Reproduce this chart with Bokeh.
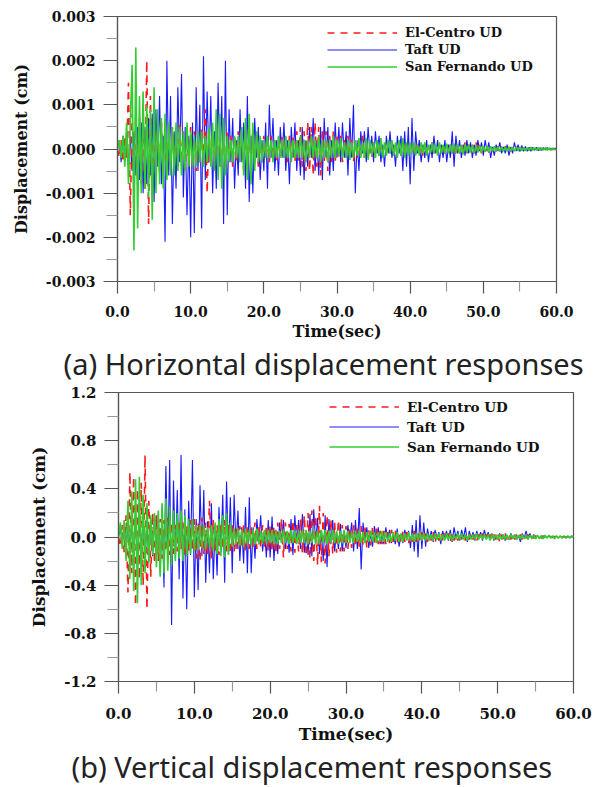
import numpy as np
from bokeh.plotting import figure
from bokeh.models import Range1d, FixedTicker, PrintfTickFormatter, Legend, LegendItem, Title
from bokeh.layouts import column
from bokeh.embed import file_html
from bokeh.resources import INLINE

# ---------------- data ----------------
DT = 0.25                      # sampling step of the digitised records (s)
N_SAMPLES = 241                # 0 .. 60 s
time_sec = np.arange(N_SAMPLES) * DT

# (a) Horizontal displacement, values in units of 1e-4 cm
h_elcentro = [
    0, -2, 2, -3, 3, -2, 15, -15, 8, -9, 9, -8, 7, -8, 6, -9, 20, -17, 12, -10,
    6, -6, 5, -5, 6, -4, 4, -5, 3, -4, 5, -3, 4, -4, 6, -3, 4, -5, 3, -4,
    5, -4, 4, -5, 3, -3, 5, -4, 9, -10, 4, -3, 3, -4, 4, -3, 4, -5, 3, -4,
    4, -3, 3, -4, 3, -3, 4, -3, 3, -5, 5, -4, 3, -3, 4, -3, 3, -4, 2, -3,
    3, -2, 2, -3, 3, -2, 2, -3, 2, -2, 3, -2, 2, -3, 3, -2, 3, -3, 4, -3,
    5, -4, 4, -5, 6, -5, 5, -6, 6, -4, 5, -6, 4, -3, 4, -5, 3, -3, 4, -3,
    3, -2, 3, -3, 2, -2, 3, -2, 2, -3, 2, -2, 2, -2, 3, -2, 2, -2, 1, -2,
    1.5, -1, 1, -1.5, 1, -1, 1.5, -1, 1, -1, 1.5, -1.5, 1, -1, 1, -1.5, 1, -1, 1.5, -1,
    1, -1, 1.5, -1, 1, -1, 1, -1.5, 1, -1, 1, -1, 1.5, -1, 1, -1, 1, -1, 1, -1,
    1, -1, 1, -1, 1, -1.5, 1, -1, 1, -1, 1.5, -1, 1, -1, 1, -1, 1.5, -1, 1, -1,
    0.8, -0.6, 0.7, -0.8, 0.6, -0.5, 0.7, -0.5, 0.6, -0.6, 0.5, -0.5, 0.6, -0.4, 0.5, -0.5, 0.4, -0.4, 0.5, -0.3,
    0.4, -0.3, 0.3, -0.4, 0.3, -0.3, 0.3, -0.2, 0.3, -0.2, 0.2, -0.2, 0.2, -0.2, 0.2, -0.1, 0.1, -0.1, 0.1, -0.1,
    0,
]
h_taft = [
    0, 2, -3, 3, -2, 4, -4, 3, -5, 4, -6, 5, -7, 6, -10, 5, -8, 7, -6, 8,
    -12, 9, -4, 12, -8, 3, -21, 20, -6, 12, -17, 4, -9, 14, -3, 17, -11, 5, -15, 3,
    -20, 6, -19, 14, -5, 10, -18, 21, -7, 13, -3, 12, -10, 4, -9, 15, -4, 12, -17, 20,
    -15, 9, -3, 7, -9, 2, -6, 9, -3, 6, -9, 12, -12, 3, -10, 7, -2, 5, -7, 2,
    -5, 6, -9, 10, -2, 7, -5, 2, -6, 5, -2, 6, -5, 2, -8, 5, -2, 6, -5, 2,
    -6, 5, -7, 2, -4, 5, -2, 7, -5, 2, -6, 5, -7, 7, -2, 5, -6, 2, -5, 6,
    -2, 5, -3, 6, -2, 4, -6, 7, -2, 10, -10, 2, -5, 4, -1, 4, -3, 5, -1, 3,
    -3, 4, -1, 3, -3, 1, -4, 3, -1, 4, -2, 1, -4, 3, -1, 3, -5, 4, -4, 5,
    -8, 7, -5, 4, -1, 2, -3, 1, -2, 2, -3, 1, -2, 3, -1, 2, -3, 1, -2, 2,
    -3, 1, -2, 4, -4, 3, -1, 2, -2, 1, -1.5, 2, -1, 1.5, -2, 1, -1.5, 2, -0.5, 1.5,
    -1.5, 2, -0.5, 1.5, -2, 0.5, -1.5, 1, -0.5, 1.5, -1, 0.5, -1, 1, -1.5, 0.5, -1, 1.5, -0.5, 1,
    -0.6, 0.8, -0.5, 0.6, -0.5, 0.4, -0.5, 0.4, -0.3, 0.4, -0.4, 0.3, -0.3, 0.3, -0.2, 0.3, -0.2, 0.2, -0.2, 0.2,
    0,
]
h_sanfernando = [
    0, 2, -2, 3, -4, 6, -8, 6, 19, -23, 23, -18, 12, -10, 13, -9, 10, -11, 9, -16,
    14, -10, 9, -8, 7, -9, 8, -7, 6, -6, 5, -6, 6, -5, 5, -6, 4, -5, 6, -4,
    4, -4, 3, -4, 4, -3, 4, -4, 3, -3, 5, -4, 6, -5, 9, -7, 8, -9, 7, -6,
    3, -3, 2, -3, 3, -2, 3, -3, 5, -6, 7, -7, 8, -8, 6, -5, 4, -3, 3, -3,
    2, -2, 3, -2, 2, -3, 2, -2, 3, -2, 2, -2, 3, -2, 2, -3, 2, -2, 2, -2,
    3, -2, 2, -3, 2, -2, 3, -2, 2, -2, 3, -3, 2, -2, 2, -3, 2, -2, 3, -2,
    2, -1.5, 2.5, -2, 1.5, -2, 2, -2.5, 1.5, -2, 2, -1.5, 2.5, -2, 1.5, -2, 2.5, -2.5, 2, -1.5,
    1.5, -2, 2, -1.5, 2.5, -2, 1.5, -1.5, 2, -1, 2, -1.5, 1.5, -2, 2, -1.5, 2.5, -2, 1.5, -1.5,
    1.5, -1, 1.5, -1.5, 1, -1.5, 1.5, -1, 1.5, -1.5, 1, -1, 1.5, -1, 1, -1.5, 1.5, -1, 1, -1,
    1.2, -1, 1, -1, 1.2, -1, 1, -1, 1, -1.2, 1, -0.8, 1, -0.8, 0.8, -1, 0.8, -0.8, 0.8, -0.8,
    0.7, -0.6, 0.6, -0.7, 0.6, -0.5, 0.6, -0.5, 0.5, -0.6, 0.5, -0.5, 0.5, -0.5, 0.5, -0.4, 0.4, -0.5, 0.4, -0.4,
    0.4, -0.4, 0.3, -0.4, 0.3, -0.3, 0.4, -0.3, 0.3, -0.3, 0.3, -0.3, 0.3, -0.2, 0.3, -0.3, 0.2, -0.3, 0.2, -0.2,
    0,
]
H_UNIT = 1e-4

# (b) Vertical displacement, values in units of 0.01 cm
v_elcentro = [
    0, -8, 10, -13, 18, -46, 54, -30, 50, -57, 40, -35, 45, -40, 68, -60, 30, -33, 20, -22,
    18, -20, 15, -18, 14, -12, 16, -15, 12, -14, 10, -12, 14, -10, 12, -15, 10, -12, 14, -11,
    15, -18, 12, -20, 16, -14, 12, -15, 30, -18, 14, -12, 10, -15, 12, -10, 14, -12, 10, -14,
    10, -12, 8, -10, 9, -8, 10, -12, 8, -10, 9, -8, 12, -10, 8, -9, 10, -8, 9, -12,
    10, -12, 9, -14, 12, -10, 15, -17, 12, -10, 11, -12, 14, -13, 10, -12, 15, -14, 18, -16,
    20, -18, 22, -20, 18, -23, 26, -21, 20, -22, 18, -16, 15, -14, 12, -13, 14, -12, 10, -12,
    9, -10, 8, -9, 10, -8, 7, -8, 9, -7, 8, -9, 6, -7, 8, -6, 7, -6, 5, -6,
    5, -6, 4, -5, 6, -4, 5, -5, 4, -5, 5, -4, 4, -5, 3, -4, 5, -4, 4, -3,
    4, -3, 3, -4, 3, -3, 4, -5, 3, -3, 4, -3, 3, -3, 3, -4, 3, -3, 2, -3,
    3, -2, 3, -3, 2, -2, 3, -2, 2, -3, 2, -2, 3, -2, 2, -3, 2, -2, 2, -2,
    3, -4, 2, -2, 3, -2, 2, -2, 2, -2, 2, -1, 2, -2, 1, -1, 2, -1, 1, -1,
    1, -1, 1, -1, 1, -0.5, 0.5, -0.5, 0.5, -0.5, 0.5, -0.5, 0.5, -0.3, 0.3, -0.3, 0.3, -0.3, 0.2, -0.2,
    0,
]
v_taft = [
    0, 8, -6, 9, -10, 12, -8, 10, -12, 9, -14, 12, -10, 15, -18, 12, -20, 14, -16, 18,
    -15, 20, -30, 25, -42, 59, -20, 64, -73, 47, -18, 39, -35, 68, -51, 23, -60, 30, -15, 64,
    -50, 15, -44, 43, -16, 39, -38, 13, -30, 28, -35, 10, -32, 25, -12, 35, -38, 46, -15, 33,
    -30, 35, -10, 22, -20, 8, -22, 25, -30, 33, -30, 8, -18, 15, -6, 18, -12, 5, -17, 14,
    -17, 17, -20, 6, -14, 12, -5, 14, -10, 4, -13, 15, -15, 18, -5, 14, -10, 19, -13, 5,
    -15, 19, -16, 23, -6, 16, -14, 5, -20, 18, -25, 15, -6, 14, -12, 4, -10, 11, -12, 4,
    -9, 10, -3, 12, -12, 14, -10, 24, -27, 12, -3, 8, -9, 3, -8, 9, -3, 8, -6, 2,
    -6, 8, -2, 6, -5, 2, -6, 7, -8, 2, -5, 6, -2, 5, -9, 10, -12, 14, -17, 18,
    -10, 12, -8, 7, -2, 5, -4, 6, -1, 4, -6, 5, -1, 5, -3, 6, -4, 8, -1, 5,
    -3, 6, -1, 8, -4, 5, -1, 4, -3, 5, -1, 4, -3, 6, -1, 4, -2, 3, -3, 1,
    -2, 3, -1, 2, -3, 1, -2, 3, -1, 2, -2, 1, -4, 3, -1, 5, -2, 3, -1, 2,
    -1, 1, -0.5, 1, -1, 0.5, -0.5, 1, -0.5, 0.5, -0.5, 0.5, -0.5, 0.5, -0.5, 0.5, -0.3, 0.3, -0.3, 0.3,
    0,
]
v_sanfernando = [
    0, 12, -10, 14, -20, 30, -35, 38, -45, 48, -55, 50, -40, 35, -30, 28, -22, 18, -15, 20,
    -25, 22, -33, 28, -30, 32, -28, 25, -24, 22, -20, 20, -18, 22, -20, 18, -16, 15, -14, 15,
    -12, 10, -11, 10, -9, 10, -10, 8, -9, 10, -12, 12, -14, 15, -16, 18, -17, 20, -15, 12,
    -8, 7, -6, 7, -7, 6, -8, 7, -6, 6, -7, 6, -6, 7, -6, 5, -6, 6, -5, 6,
    -5, 6, -6, 5, -6, 5, -5, 6, -5, 5, -6, 6, -5, 5, -6, 5, -5, 6, -5, 6,
    -6, 5, -5, 6, -6, 5, -6, 6, -5, 6, -6, 5, -5, 6, -5, 5, -6, 5, -5, 6,
    -5, 5, -5, 4, -5, 5, -4, 5, -5, 4, -5, 4, -4, 5, -4, 4, -5, 4, -4, 5,
    -4, 4, -4, 3, -4, 4, -3, 4, -4, 3, -4, 3, -3, 4, -3, 3, -4, 3, -3, 4,
    -3, 3, -3, 3, -3, 2, -3, 3, -2, 3, -3, 2, -3, 3, -2, 3, -3, 2, -2, 3,
    -2, 3, -2, 2, -3, 2, -2, 2, -2, 3, -2, 2, -2, 2, -2, 2, -3, 2, -2, 2,
    -2, 2, -2, 2, -2, 1.5, -2, 2, -1.5, 2, -2, 1.5, -1.5, 2, -1.5, 1.5, -2, 1.5, -1.5, 1.5,
    -1.5, 1.5, -1.5, 1, -1.5, 1.5, -1, 1.5, -1, 1, -1.5, 1, -1, 1, -1, 1, -1, 1, -1, 1,
    0,
]
V_UNIT = 0.01

for s in (h_elcentro, h_taft, h_sanfernando, v_elcentro, v_taft, v_sanfernando):
    assert len(s) == N_SAMPLES, len(s)

series_names = ["El-Centro UD", "Taft UD", "San Fernando UD"]
captions = ["(a) Horizontal displacement responses", "(b) Vertical displacement responses"]
x_ticks = [0, 10, 20, 30, 40, 50, 60]
x_minor = [5, 15, 25, 35, 45, 55]
h_yticks = [-0.003, -0.002, -0.001, 0.0, 0.001, 0.002, 0.003]
h_yminor = [-0.0025, -0.0015, -0.0005, 0.0005, 0.0015, 0.0025]
v_yticks = [-1.2, -0.8, -0.4, 0.0, 0.4, 0.8, 1.2]
v_yminor = [-1.0, -0.6, -0.2, 0.2, 0.6, 1.0]

RED, BLUE, GREEN = "#ff1a1a", "#1a1aff", "#33cc33"
SERIF = "DejaVu Serif"
AXIS_COL = "#555555"


def caption_title(text, offset, standoff, valign):
    return Title(text=text, align="left", offset=offset, standoff=standoff,
                 vertical_align=valign, text_font="Noto Sans", text_font_size="29px",
                 text_font_style="normal", text_color="#222222")


def make_panel(height, borders, yrange, yticks, yminor, yfmt, data, unit,
               tick_fs, label_fs, tick_standoff, legend_loc, legend_h, legend_sp, legend_fs):
    bl, br, bt, bb = borders
    p = figure(width=602, height=height, x_range=Range1d(0, 60), y_range=Range1d(*yrange),
               output_backend="svg", toolbar_location=None,
               min_border_left=bl, min_border_right=br, min_border_top=bt, min_border_bottom=bb)
    p.frame_align = False
    p.grid.visible = False
    p.outline_line_color = AXIS_COL
    p.outline_line_width = 1.2
    p.background_fill_color = "white"
    p.border_fill_color = "white"

    el, tf, sf = [np.array(d, dtype=float) * unit for d in data]
    r_tf = p.line(time_sec, tf, line_color=BLUE, line_width=1.1)
    r_el = p.line(time_sec, el, line_color=RED, line_width=1.6, line_dash="7 6")
    r_sf = p.line(time_sec, sf, line_color=GREEN, line_width=1.6)

    xa = p.xaxis[0]
    xa.ticker = FixedTicker(ticks=x_ticks, minor_ticks=x_minor)
    xa.formatter = PrintfTickFormatter(format="%.1f")
    xa.axis_label = "Time(sec)"
    xa.major_tick_out = 12
    xa.major_tick_in = 0
    xa.minor_tick_out = 10
    xa.minor_tick_in = 0
    xa.major_label_standoff = tick_standoff
    xa.axis_label_standoff = 2

    ya = p.yaxis[0]
    ya.ticker = FixedTicker(ticks=yticks, minor_ticks=yminor)
    ya.formatter = PrintfTickFormatter(format=yfmt)
    ya.axis_label = "Displacement (cm)"
    ya.major_tick_out = 14
    ya.major_tick_in = 0
    ya.minor_tick_out = 11
    ya.minor_tick_in = 0
    ya.major_label_standoff = 8
    ya.axis_label_standoff = 12

    for ax in (xa, ya):
        ax.axis_line_color = AXIS_COL
        ax.axis_line_width = 1.2
        ax.major_tick_line_color = AXIS_COL
        ax.major_tick_line_width = 1.2
        ax.minor_tick_line_color = "#999999"
        ax.minor_tick_line_width = 1.2
        ax.major_label_text_font = SERIF
        ax.major_label_text_font_style = "bold"
        ax.major_label_text_font_size = tick_fs
        ax.major_label_text_color = "#111111"
        ax.axis_label_text_font = SERIF
        ax.axis_label_text_font_style = "bold"
        ax.axis_label_text_font_size = label_fs
        ax.axis_label_text_color = "#111111"

    legend = Legend(items=[LegendItem(label=series_names[0], renderers=[r_el]),
                           LegendItem(label=series_names[1], renderers=[r_tf]),
                           LegendItem(label=series_names[2], renderers=[r_sf])],
                    location=legend_loc, orientation="vertical",
                    glyph_width=70, glyph_height=legend_h, label_height=legend_h,
                    spacing=legend_sp, padding=0, margin=0, label_standoff=8,
                    border_line_alpha=0, background_fill_alpha=0,
                    label_text_font=SERIF, label_text_font_style="bold",
                    label_text_font_size=legend_fs, label_text_color="#111111")
    p.add_layout(legend)
    return p


# top panel: frame y 16..282, x 117..556 (page pixels)
p_top = make_panel(384, (117, 46, 16, 102), (-0.003, 0.003), h_yticks, h_yminor, "%.3f",
                   (h_elcentro, h_taft, h_sanfernando), H_UNIT,
                   "14px", "16px", 12, (210, 207), 15, 2, "13px")
p_top.add_layout(caption_title(captions[0], -54, 0, "top"), "below")

# bottom panel: frame y 392..682 (page), x 118..573
p_bot = make_panel(403, (118, 29, 8, 105), (-1.2, 1.2), v_yticks, v_yminor, "%.1f",
                   (v_elcentro, v_taft, v_sanfernando), V_UNIT,
                   "15px", "17px", 14, (211, 225), 19, 1, "13.5px")
p_bot.add_layout(caption_title(captions[1], -47, 0, "top"), "below")

layout = column(p_top, p_bot, spacing=0)
open("out.html", "w").write(file_html(layout, INLINE))
